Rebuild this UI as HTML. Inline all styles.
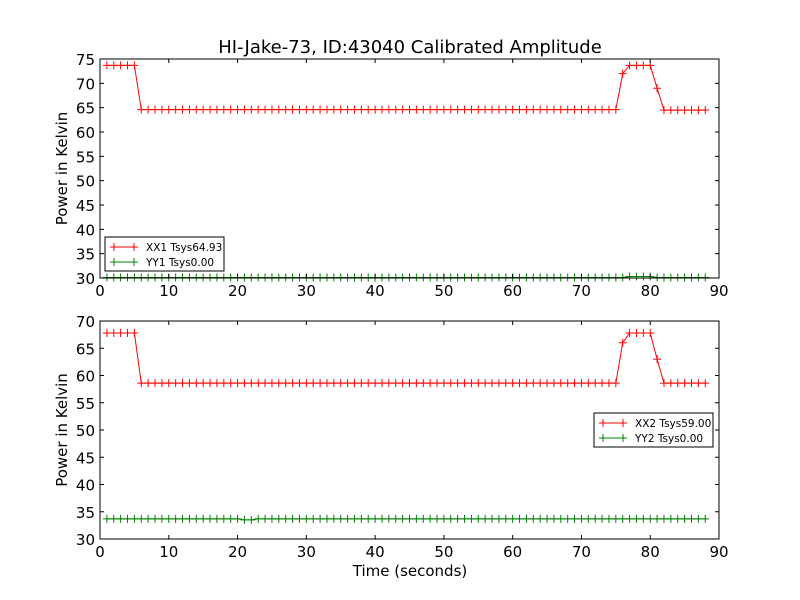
<!DOCTYPE html>
<html><head><meta charset="utf-8"><style>body{margin:0;background:#fff}svg{display:block}text{font-family:"DejaVu Sans","Liberation Sans",sans-serif}</style></head>
<body>
<svg id="c" width="800" height="600" xmlns="http://www.w3.org/2000/svg"></svg>
<script>
const times=[];for(let t=1;t<=88;t++)times.push(t);
const xx1Hi=73.7, xx1Lo=64.6, xx2Hi=67.8, xx2Lo=58.6;
const xx1=times.map(t=>t<=5?xx1Hi:t<=75?xx1Lo:t==76?72:t<=80?xx1Hi:t==81?69:64.5);
const yy1=times.map(t=>(t>=77&&t<=80)?30.3:30.1);
const xx2=times.map(t=>t<=5?xx2Hi:t<=75?xx2Lo:t==76?66:t<=80?xx2Hi:t==81?63:58.6);
const yy2=times.map(t=>t==21||t==22?33.5:33.7);
const xTicks=[0,10,20,30,40,50,60,70,80,90];
const topYTicks=[30,35,40,45,50,55,60,65,70,75];
const botYTicks=[30,35,40,45,50,55,60,65,70];
const NS="http://www.w3.org/2000/svg",svg=document.getElementById('c');
function el(tag,attrs,parent){const e=document.createElementNS(NS,tag);for(const k in attrs)e.setAttribute(k,attrs[k]);(parent||svg).appendChild(e);return e;}
function panel(name,top,bot,ymin,ymax,yTicks,series,legend){
  const L=100,R=719;
  const g=el('g',{});
  
  
  const sx=v=>L+(v-0)/90*(R-L), sy=v=>bot-(v-ymin)/(ymax-ymin)*(bot-top);
  series.forEach(s=>{
    const sg=el('g',{},g);
    
    
    const vals=s.vals.map(v=>Math.max(ymin,Math.min(ymax,v)));
    el('polyline',{points:times.map((t,i)=>sx(t)+','+sy(vals[i])).join(' '),fill:'none',stroke:s.color,'stroke-width':1},sg);
    times.forEach((t,i)=>{const x=sx(t),y=sy(vals[i]);
      el('path',{d:`M${x-4},${y}H${x+4}M${x},${y-4}V${y+4}`,stroke:s.color,'stroke-width':1},sg);});
  });
  el('rect',{x:L,y:top,width:R-L,height:bot-top,fill:'none',stroke:'#000','stroke-width':1},g);
  xTicks.forEach(v=>{const x=sx(v);
    el('path',{d:`M${x},${bot}v-4M${x},${top}v4`,stroke:'#000'},g);
    const t=el('text',{x:x,y:bot+18,'font-size':15,'text-anchor':'middle'},g);t.textContent=v;
    });
  yTicks.forEach(v=>{const y=sy(v);
    el('path',{d:`M${L},${y}h4M${R},${y}h-4`,stroke:'#000'},g);
    const t=el('text',{x:L-5,y:y+6,'font-size':15,'text-anchor':'end'},g);t.textContent=v;
    });
  const yl=el('text',{x:0,y:0,'font-size':15,'text-anchor':'middle',transform:`translate(67,${(top+bot)/2}) rotate(-90)`},g);
  yl.textContent='Power in Kelvin';
  const lg=el('g',{},g);
  el('rect',{x:legend.x,y:legend.y,width:legend.w,height:34,fill:'#fff',stroke:'#000'},lg);
  series.forEach((s,i)=>{const y=legend.y+10+i*15,x=legend.x+5;
    el('path',{d:`M${x},${y}h28M${x+4},${y-4}v8M${x+24},${y-4}v8`,stroke:s.color},lg);
    const t=el('text',{x:x+36,y:y+4,'font-size':10.5},lg);t.textContent=s.label;
    });
}
const title=el('text',{x:410,y:53,'font-size':18,'text-anchor':'middle'});
title.textContent='HI-Jake-73, ID:43040 Calibrated Amplitude';

panel('top-panel',59,278,30,75,topYTicks,[{name:'series-xx1',vals:xx1,color:'#ff0000',label:'XX1 Tsys64.93'},{name:'series-yy1',vals:yy1,color:'#008000',label:'YY1 Tsys0.00'}],{x:105,y:237,w:119});
panel('bottom-panel',321,539,30,70,botYTicks,[{name:'series-xx2',vals:xx2,color:'#ff0000',label:'XX2 Tsys59.00'},{name:'series-yy2',vals:yy2,color:'#008000',label:'YY2 Tsys0.00'}],{x:594,y:413,w:119});
const xl=el('text',{x:410,y:576,'font-size':15,'text-anchor':'middle'});
xl.textContent='Time (seconds)';
</script>
</body></html>
